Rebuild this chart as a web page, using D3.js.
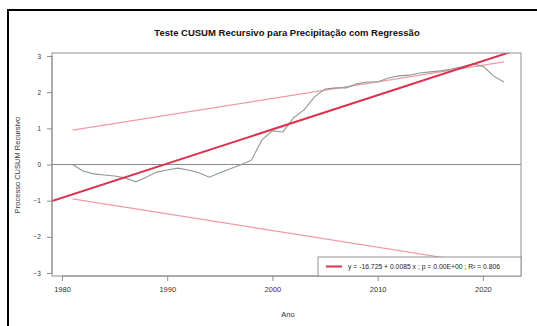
<!DOCTYPE html>
<html><head><meta charset="utf-8">
<script src="https://cdn.jsdelivr.net/npm/d3@7"></script>
<style>html,body{margin:0;padding:0;background:#fff;}svg{display:block;font-family:"Liberation Sans",Arial,sans-serif;}</style>
</head><body><svg id="c" width="537" height="326"></svg>
<script>
// ---- data ----
const years = [1981,1982,1983,1984,1985,1986,1987,1988,1989,1990,1991,1992,1993,1994,1995,1996,1997,1998,1999,2000,
  2001,2002,2003,2004,2005,2006,2007,2008,2009,2010,2011,2012,2013,2014,2015,2016,2017,2018,2019,2020,2021,2022];
const cusum = [0.00,-0.18,-0.26,-0.29,-0.32,-0.37,-0.48,-0.35,-0.21,-0.15,-0.10,-0.15,-0.23,-0.35,-0.23,-0.12,-0.01,0.12,0.68,0.93,
  0.90,1.29,1.51,1.87,2.09,2.12,2.12,2.23,2.28,2.28,2.39,2.45,2.47,2.53,2.56,2.59,2.64,2.70,2.78,2.72,2.45,2.28];
const boundYears = [1981, 2022];
const upperBound = [0.95, 2.84];
const lowerBound = [-0.95, -2.84];
const regIntercept = -188.23;
const regSlope = 0.0946;
const xTicks = [1980, 1990, 2000, 2010, 2020];
const yTicks = [-3, -2, -1, 0, 1, 2, 3];
const title = "Teste CUSUM Recursivo para Precipitação com Regressão";
const xLabel = "Ano";
const yLabel = "Processo CUSUM Recursivo";
const legendText = "y = -16.725 + 0.0085 x ; p = 0.00E+00 ; R² = 0.806";

// ---- layout ----
const svg = d3.select("#c");
const L = 52, R = 521, T = 53, B = 276;
const x = d3.scaleLinear().domain([1979.05, 2023.62]).range([L, R]);
const y = d3.scaleLinear().domain([-3.083, 3.083]).range([B, T]);

// outer frame (only top/left visible)
svg.append("rect").attr("x", 8).attr("y", 10).attr("width", 560).attr("height", 340)
  .attr("fill", "none").attr("stroke", "#000").attr("stroke-width", 2);

svg.append("defs").append("clipPath").attr("id", "clip")
  .append("rect").attr("x", L).attr("y", T).attr("width", R - L).attr("height", B - T);

const g = svg.append("g").attr("clip-path", "url(#clip)");

// zero line
g.append("line").attr("x1", L).attr("x2", R).attr("y1", y(0)).attr("y2", y(0))
  .attr("stroke", "#8a8a8a").attr("stroke-width", 1);

// boundaries
[upperBound, lowerBound].forEach(b => {
  g.append("line").attr("x1", x(boundYears[0])).attr("y1", y(b[0]))
    .attr("x2", x(boundYears[1])).attr("y2", y(b[1]))
    .attr("stroke", "#f19aa8").attr("stroke-width", 1.2);
});

// CUSUM path
g.append("path").datum(d3.zip(years, cusum))
  .attr("d", d3.line().x(d => x(d[0])).y(d => y(d[1])))
  .attr("fill", "none").attr("stroke", "#8c9a92").attr("stroke-width", 1.1);

// regression line
const xd = x.domain();
g.append("line").attr("x1", x(xd[0])).attr("y1", y(regIntercept + regSlope * xd[0]))
  .attr("x2", x(xd[1])).attr("y2", y(regIntercept + regSlope * xd[1]))
  .attr("stroke", "#d9334f").attr("stroke-width", 2);

// plot box
svg.append("rect").attr("x", L).attr("y", T).attr("width", R - L).attr("height", B - T)
  .attr("fill", "none").attr("stroke", "#8f8f8f").attr("stroke-width", 1);

// axes
const xAxis = d3.axisBottom(x).tickValues(xTicks).tickFormat(d3.format("d")).tickSize(5).tickPadding(6);
const gx = svg.append("g").attr("transform", `translate(0,${B})`).call(xAxis);
gx.select(".domain").attr("stroke", "#8f8f8f").attr("d", `M${x(xTicks[0])},0H${x(xTicks[xTicks.length-1])}`);
gx.selectAll(".tick line").attr("stroke", "#8f8f8f");
gx.selectAll("text").attr("font-size", 7.5).attr("fill", "#333");

const yAxis = d3.axisLeft(y).tickValues(yTicks).tickFormat(d3.format("d")).tickSize(5).tickPadding(6);
const gy = svg.append("g").attr("transform", `translate(${L},0)`).call(yAxis);
gy.select(".domain").attr("stroke", "#8f8f8f").attr("d", `M0,${y(yTicks[0])}V${y(yTicks[yTicks.length-1])}`);
gy.selectAll(".tick line").attr("stroke", "#8f8f8f");
gy.selectAll("text").attr("font-size", 6.5).attr("fill", "#333");

// titles
svg.append("text").attr("x", 287).attr("y", 36).attr("text-anchor", "middle")
  .attr("font-size", 9.5).attr("font-weight", "bold").attr("fill", "#111").text(title);
svg.append("text").attr("x", 288).attr("y", 317).attr("text-anchor", "middle")
  .attr("font-size", 7.5).attr("fill", "#333").text(xLabel);
svg.append("text").attr("transform", "translate(20,165) rotate(-90)").attr("text-anchor", "middle")
  .attr("font-size", 7.5).attr("fill", "#333").text(yLabel);

// legend
const lg = svg.append("g");
lg.append("rect").attr("x", 318).attr("y", 257).attr("width", R - 318).attr("height", B - 257)
  .attr("fill", "#fff").attr("stroke", "#8f8f8f").attr("stroke-width", 1);
lg.append("line").attr("x1", 326).attr("x2", 342).attr("y1", 266.5).attr("y2", 266.5)
  .attr("stroke", "#d9334f").attr("stroke-width", 2);
lg.append("text").attr("x", 348).attr("y", 269).attr("font-size", 6.8).attr("fill", "#222").text(legendText);
</script></body></html>
